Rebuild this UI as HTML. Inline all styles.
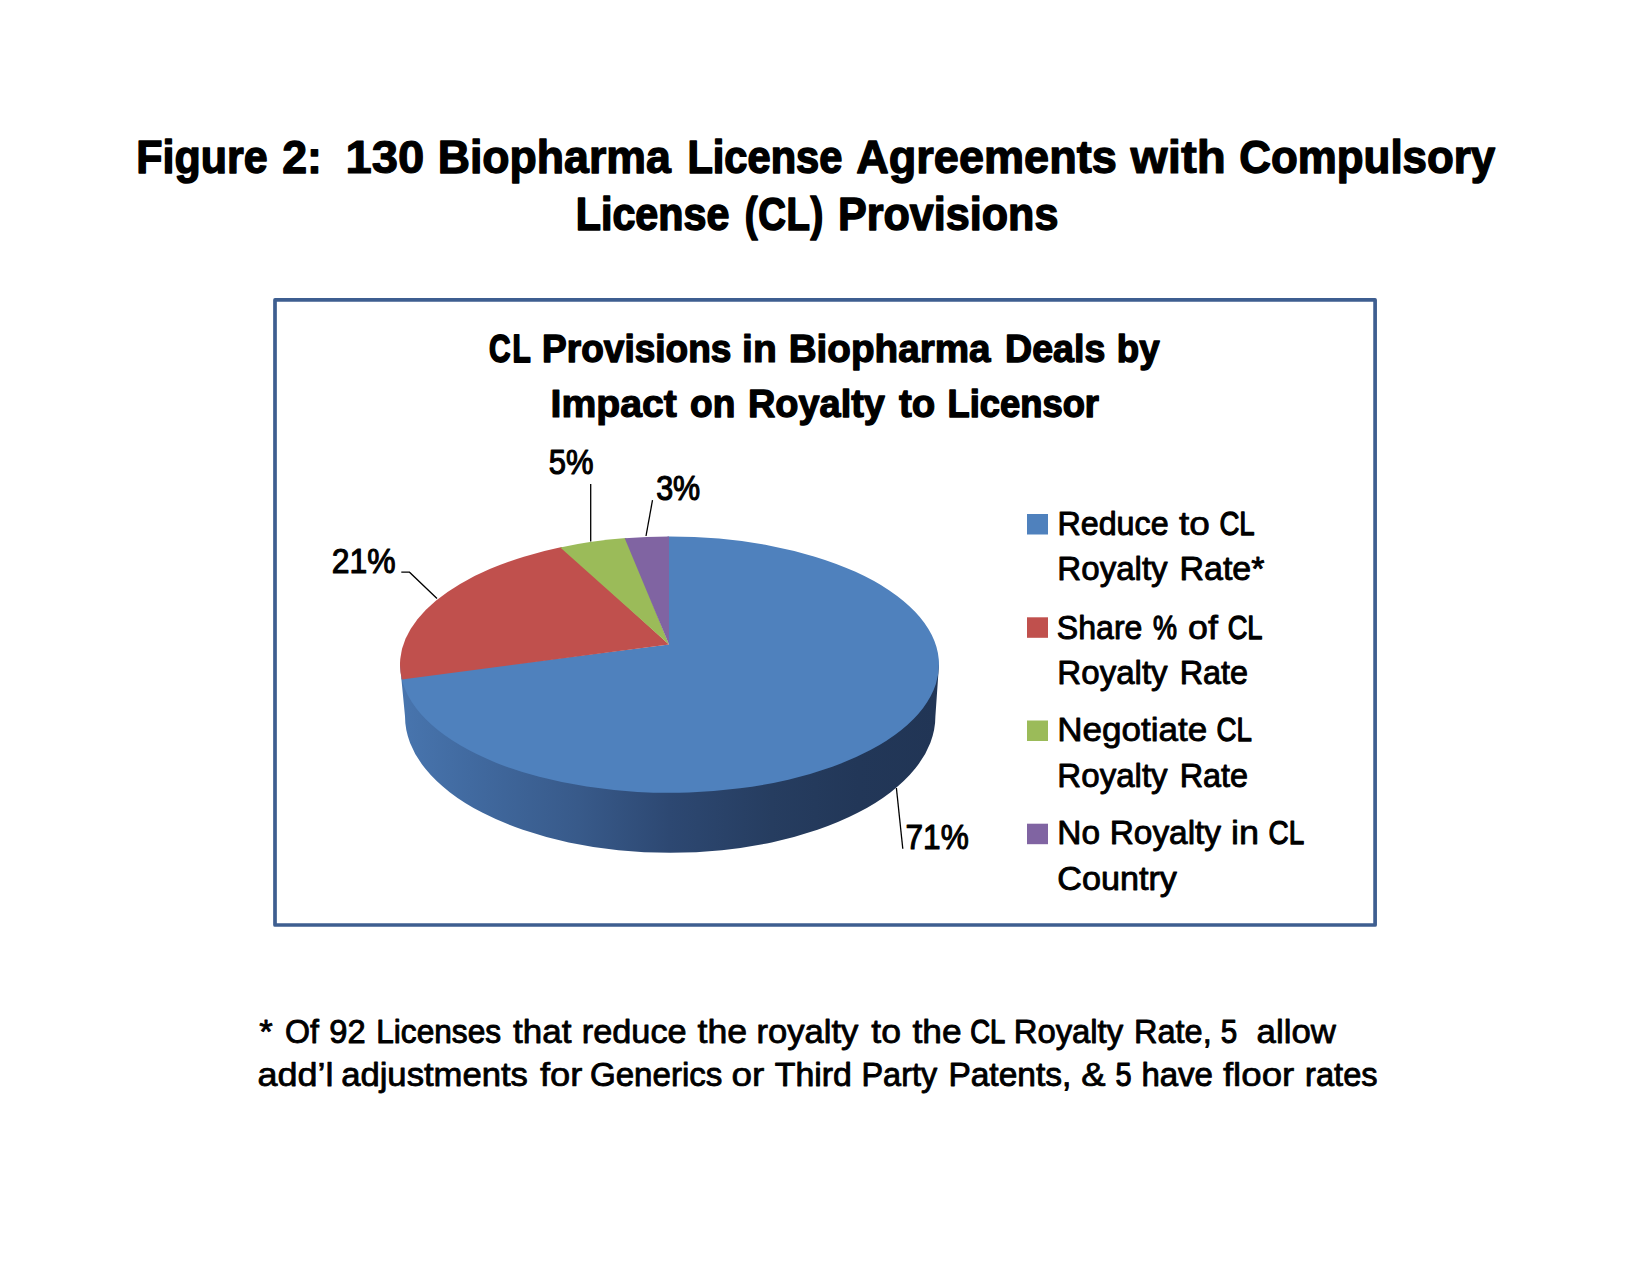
<!DOCTYPE html>
<html lang="en"><head><meta charset="utf-8"><title>Figure 2: 130 Biopharma License Agreements with Compulsory License (CL) Provisions</title>
<style>
html,body{margin:0;padding:0;background:#fff}
body{width:1650px;height:1275px;overflow:hidden}
svg{display:block}
text{font-family:"Liberation Sans",sans-serif;fill:#000}
.t1 text{font-size:46.0px;font-weight:bold;stroke:#000;stroke-width:1.2px;stroke-linejoin:round}
.t2 text{font-size:39.6px;font-weight:bold;stroke:#000;stroke-width:1.2px;stroke-linejoin:round}
.t3 text{font-size:33.4px;stroke:#000;stroke-width:0.9px;stroke-linejoin:round}
.t5 text{font-size:33.0px;stroke:#000;stroke-width:0.9px;stroke-linejoin:round}
.t4 text{font-size:35.6px;stroke:#000;stroke-width:0.9px;stroke-linejoin:round}
</style></head><body>
<svg width="1650" height="1275" viewBox="0 0 1650 1275">
<rect width="1650" height="1275" fill="#fff"/>
<rect x="275" y="299.9" width="1100.1" height="625.1" fill="#fff" stroke="#3e5e90" stroke-width="3.7" stroke-linejoin="round"/>
<g class="t1">
<text y="173"><tspan x="136.30" textLength="131.29" lengthAdjust="spacingAndGlyphs" style="stroke-width:1.46px">Figure</tspan> <tspan x="282.14" textLength="39.74" lengthAdjust="spacingAndGlyphs" style="stroke-width:1.30px">2:</tspan> <tspan x="345.51" textLength="78.84" lengthAdjust="spacingAndGlyphs" style="stroke-width:1.10px">130</tspan> <tspan x="437.65" textLength="233.23" lengthAdjust="spacingAndGlyphs" style="stroke-width:1.31px">Biopharma</tspan> <tspan x="687.42" textLength="154.89" lengthAdjust="spacingAndGlyphs" style="stroke-width:1.60px">License</tspan> <tspan x="856.22" textLength="260.58" lengthAdjust="spacingAndGlyphs" style="stroke-width:1.28px">Agreements</tspan> <tspan x="1130.60" textLength="95.35" lengthAdjust="spacingAndGlyphs" style="stroke-width:1.07px">with</tspan> <tspan x="1239.29" textLength="255.97" lengthAdjust="spacingAndGlyphs" style="stroke-width:1.38px">Compulsory</tspan></text>
<text y="230"><tspan x="575.75" textLength="153.64" lengthAdjust="spacingAndGlyphs" style="stroke-width:1.63px">License</tspan> <tspan x="744.71" textLength="79.33" lengthAdjust="spacingAndGlyphs" style="stroke-width:1.70px;letter-spacing:0.8px">(CL)</tspan> <tspan x="837.99" textLength="220.38" lengthAdjust="spacingAndGlyphs" style="stroke-width:1.45px">Provisions</tspan></text>
</g>
<g class="t2">
<text y="362"><tspan x="488.95" textLength="43.57" lengthAdjust="spacingAndGlyphs" style="stroke-width:1.80px;letter-spacing:2.5px">CL</tspan> <tspan x="542.05" textLength="189.38" lengthAdjust="spacingAndGlyphs" style="stroke-width:1.42px">Provisions</tspan> <tspan x="742.07" textLength="34.70" lengthAdjust="spacingAndGlyphs">in</tspan> <tspan x="788.71" textLength="201.92" lengthAdjust="spacingAndGlyphs" style="stroke-width:1.28px">Biopharma</tspan> <tspan x="1005.10" textLength="100.27" lengthAdjust="spacingAndGlyphs" style="stroke-width:1.37px">Deals</tspan> <tspan x="1116.78" textLength="42.82" lengthAdjust="spacingAndGlyphs" style="stroke-width:1.45px">by</tspan></text>
<text y="417"><tspan x="550.56" textLength="126.32" lengthAdjust="spacingAndGlyphs">Impact</tspan> <tspan x="690.11" textLength="45.22" lengthAdjust="spacingAndGlyphs" style="stroke-width:1.42px">on</tspan> <tspan x="747.97" textLength="136.94" lengthAdjust="spacingAndGlyphs" style="stroke-width:1.34px">Royalty</tspan> <tspan x="898.93" textLength="36.30" lengthAdjust="spacingAndGlyphs" style="stroke-width:1.29px">to</tspan> <tspan x="947.51" textLength="151.52" lengthAdjust="spacingAndGlyphs" style="stroke-width:1.49px">Licensor</tspan></text>
</g>
<defs><linearGradient id="wg" gradientUnits="userSpaceOnUse" x1="400" y1="0" x2="939" y2="0">
<stop offset="0" stop-color="#4875ae"/><stop offset="0.13" stop-color="#416aa0"/><stop offset="0.33" stop-color="#385a8a"/>
<stop offset="0.5" stop-color="#2d4872"/><stop offset="0.69" stop-color="#263d60"/><stop offset="0.85" stop-color="#223758"/><stop offset="1" stop-color="#213555"/>
</linearGradient></defs>
<path d="M400.00 664.60L405.00 716.30A265.2 136.5 0 0 0 935.40 716.30L939.00 664.60Z" fill="url(#wg)"/>
<path d="M669.0 644.5L667.500 536.404A269.5 128.2 0 1 1 401.476 678.000Z" fill="#4f81bd"/>
<path d="M669.0 644.5L401.826 679.500A269.5 128.2 0 0 1 561.800 547.082Z" fill="#c0504d"/>
<path d="M669.0 644.5L560.300 547.396A269.5 128.2 0 0 1 626.200 538.066Z" fill="#9bbb59"/>
<path d="M669.0 644.5L624.700 538.184A269.5 128.2 0 0 1 669.000 536.400Z" fill="#8064a2"/>
<g stroke="#000" stroke-width="1.3" fill="none">
<path d="M590.7 484V541.5"/>
<path d="M652.5 500.2L646 536"/>
<path d="M401.3 572.2H409.5L437 598.5"/>
<path d="M896.4 788L902.8 848.7"/>
</g>
<g class="t4">
<text y="474"><tspan x="548.85" textLength="44.76" lengthAdjust="spacingAndGlyphs" style="stroke-width:1.18px">5%</tspan></text>
<text y="500"><tspan x="656.17" textLength="44.02" lengthAdjust="spacingAndGlyphs" style="stroke-width:1.22px">3%</tspan></text>
<text y="573"><tspan x="331.71" textLength="63.84" lengthAdjust="spacingAndGlyphs" style="stroke-width:1.12px">21%</tspan></text>
<text y="849"><tspan x="905.53" textLength="63.21" lengthAdjust="spacingAndGlyphs" style="stroke-width:1.14px">71%</tspan></text>
</g>
<rect x="1027" y="514" width="21" height="20.5" fill="#4f81bd"/>
<rect x="1027" y="617.3" width="21" height="20.5" fill="#c0504d"/>
<rect x="1027" y="720.5" width="21" height="20.5" fill="#9bbb59"/>
<rect x="1027" y="823.7" width="21" height="20.5" fill="#8064a2"/>
<g class="t3">
<text y="535"><tspan x="1057.44" textLength="111.20" lengthAdjust="spacingAndGlyphs" style="stroke-width:0.96px">Reduce</tspan> <tspan x="1178.90" textLength="30.89" lengthAdjust="spacingAndGlyphs" style="stroke-width:0.73px">to</tspan> <tspan x="1219.43" textLength="35.23" lengthAdjust="spacingAndGlyphs" style="stroke-width:1.27px">CL</tspan></text>
<text y="580"><tspan x="1057.37" textLength="110.27" lengthAdjust="spacingAndGlyphs">Royalty</tspan> <tspan x="1179.49" textLength="84.95" lengthAdjust="spacingAndGlyphs">Rate*</tspan></text>
<text y="639"><tspan x="1056.87" textLength="85.57" lengthAdjust="spacingAndGlyphs" style="stroke-width:0.97px">Share</tspan> <tspan x="1153.09" textLength="23.99" lengthAdjust="spacingAndGlyphs" style="stroke-width:1.31px">%</tspan> <tspan x="1188.10" textLength="29.86" lengthAdjust="spacingAndGlyphs" style="stroke-width:0.78px">of</tspan> <tspan x="1227.65" textLength="34.90" lengthAdjust="spacingAndGlyphs" style="stroke-width:1.29px">CL</tspan></text>
<text y="684"><tspan x="1057.37" textLength="110.27" lengthAdjust="spacingAndGlyphs">Royalty</tspan> <tspan x="1179.63" textLength="68.42" lengthAdjust="spacingAndGlyphs" style="stroke-width:0.96px">Rate</tspan></text>
<text y="741"><tspan x="1057.19" textLength="150.11" lengthAdjust="spacingAndGlyphs" style="stroke-width:0.81px">Negotiate</tspan> <tspan x="1216.43" textLength="35.34" lengthAdjust="spacingAndGlyphs" style="stroke-width:1.27px">CL</tspan></text>
<text y="787"><tspan x="1057.37" textLength="110.27" lengthAdjust="spacingAndGlyphs">Royalty</tspan> <tspan x="1179.63" textLength="68.42" lengthAdjust="spacingAndGlyphs" style="stroke-width:0.96px">Rate</tspan></text>
<text y="844"><tspan x="1057.34" textLength="42.66" lengthAdjust="spacingAndGlyphs">No</tspan> <tspan x="1109.74" textLength="111.31" lengthAdjust="spacingAndGlyphs">Royalty</tspan> <tspan x="1231.07" textLength="28.04" lengthAdjust="spacingAndGlyphs" style="stroke-width:0.77px">in</tspan> <tspan x="1268.51" textLength="35.66" lengthAdjust="spacingAndGlyphs" style="stroke-width:1.25px">CL</tspan></text>
<text y="890"><tspan x="1057.34" textLength="119.52" lengthAdjust="spacingAndGlyphs">Country</tspan></text>
</g>
<g class="t5">
<text y="1043"><tspan x="259.29" textLength="13.47" lengthAdjust="spacingAndGlyphs" style="stroke-width:0.82px">*</tspan> <tspan x="285.06" textLength="33.87" lengthAdjust="spacingAndGlyphs">Of</tspan> <tspan x="329.32" textLength="36.35" lengthAdjust="spacingAndGlyphs">92</tspan> <tspan x="376.19" textLength="124.93" lengthAdjust="spacingAndGlyphs" style="stroke-width:0.98px">Licenses</tspan> <tspan x="513.12" textLength="58.33" lengthAdjust="spacingAndGlyphs" style="stroke-width:0.80px">that</tspan> <tspan x="581.79" textLength="104.87" lengthAdjust="spacingAndGlyphs" style="stroke-width:0.83px">reduce</tspan> <tspan x="697.52" textLength="49.62" lengthAdjust="spacingAndGlyphs" style="stroke-width:0.77px">the</tspan> <tspan x="756.47" textLength="101.90" lengthAdjust="spacingAndGlyphs" style="stroke-width:0.82px">royalty</tspan> <tspan x="871.32" textLength="29.71" lengthAdjust="spacingAndGlyphs" style="stroke-width:0.77px">to</tspan> <tspan x="912.52" textLength="49.09" lengthAdjust="spacingAndGlyphs" style="stroke-width:0.79px">the</tspan> <tspan x="970.28" textLength="34.05" lengthAdjust="spacingAndGlyphs" style="stroke-width:1.31px">CL</tspan> <tspan x="1013.69" textLength="109.46" lengthAdjust="spacingAndGlyphs">Royalty</tspan> <tspan x="1134.12" textLength="77.54" lengthAdjust="spacingAndGlyphs">Rate,</tspan> <tspan x="1220.67" textLength="16.44" lengthAdjust="spacingAndGlyphs" style="stroke-width:1.10px">5</tspan> <tspan x="1256.64" textLength="79.31" lengthAdjust="spacingAndGlyphs" style="stroke-width:0.81px">allow</tspan></text>
<text y="1086"><tspan x="257.49" textLength="76.08" lengthAdjust="spacingAndGlyphs" style="stroke-width:0.75px">add’l</tspan> <tspan x="341.15" textLength="186.81" lengthAdjust="spacingAndGlyphs" style="stroke-width:0.82px">adjustments</tspan> <tspan x="539.91" textLength="42.36" lengthAdjust="spacingAndGlyphs" style="stroke-width:0.74px">for</tspan> <tspan x="589.90" textLength="132.49" lengthAdjust="spacingAndGlyphs">Generics</tspan> <tspan x="731.55" textLength="32.83" lengthAdjust="spacingAndGlyphs" style="stroke-width:0.72px">or</tspan> <tspan x="774.71" textLength="77.15" lengthAdjust="spacingAndGlyphs">Third</tspan> <tspan x="861.53" textLength="75.62" lengthAdjust="spacingAndGlyphs">Party</tspan> <tspan x="948.43" textLength="122.83" lengthAdjust="spacingAndGlyphs">Patents,</tspan> <tspan x="1081.17" textLength="24.32" lengthAdjust="spacingAndGlyphs" style="stroke-width:0.74px">&amp;</tspan> <tspan x="1115.50" textLength="16.08" lengthAdjust="spacingAndGlyphs" style="stroke-width:1.14px">5</tspan> <tspan x="1141.39" textLength="71.60" lengthAdjust="spacingAndGlyphs">have</tspan> <tspan x="1222.90" textLength="71.38" lengthAdjust="spacingAndGlyphs" style="stroke-width:0.72px">floor</tspan> <tspan x="1305.12" textLength="72.44" lengthAdjust="spacingAndGlyphs">rates</tspan></text>
</g>
</svg>
</body></html>
